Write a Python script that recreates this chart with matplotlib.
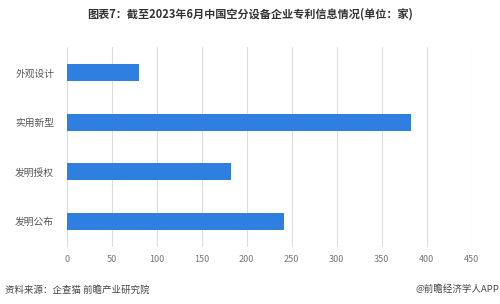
import matplotlib
matplotlib.use("Agg")
import matplotlib.pyplot as plt

plt.rcParams['font.family'] = ['Noto Sans CJK SC', 'DejaVu Sans']

# data
categories = ['外观设计', '实用新型', '发明授权', '发明公布']
values = [80, 383, 183, 241]
xticks = [0, 50, 100, 150, 200, 250, 300, 350, 400, 450]

title = '图表7：截至2023年6月中国空分设备企业专利信息情况(单位：家)'
source = '资料来源：企查猫 前瞻产业研究院'
brand = '@前瞻经济学人APP'

fig = plt.figure(figsize=(5, 3.04), dpi=100)
ax = fig.add_axes([0.1334, 0.1875, 0.81, 0.658])

ypos = list(range(len(categories)))
ax.barh(ypos, values, height=0.34, color='#2f7fe0', zorder=3)

ax.set_xlim(0, 450)
ax.set_ylim(len(categories) - 0.48, -0.52)
ax.set_xticks(xticks)
ax.set_yticks(ypos)
ax.set_yticklabels(categories, fontsize=7, color='#555555')
ax.tick_params(axis='x', labelsize=6.5, colors='#777777', length=0, pad=6)
ax.tick_params(axis='y', length=0, pad=9)
ax.grid(axis='x', color='#dcdcdc', linewidth=0.8, zorder=0)
for sp in ax.spines.values():
    sp.set_visible(False)

fig.text(0.5, 0.953, title, ha='center', va='center', fontsize=8,
         fontweight='bold', color='#333333')
fig.text(0.01, 0.045, source, ha='left', va='center', fontsize=6.8, color='#444444')
fig.text(0.998, 0.05, brand, ha='right', va='center', fontsize=6.8, color='#444444')

fig.savefig('out.png', dpi=100)
